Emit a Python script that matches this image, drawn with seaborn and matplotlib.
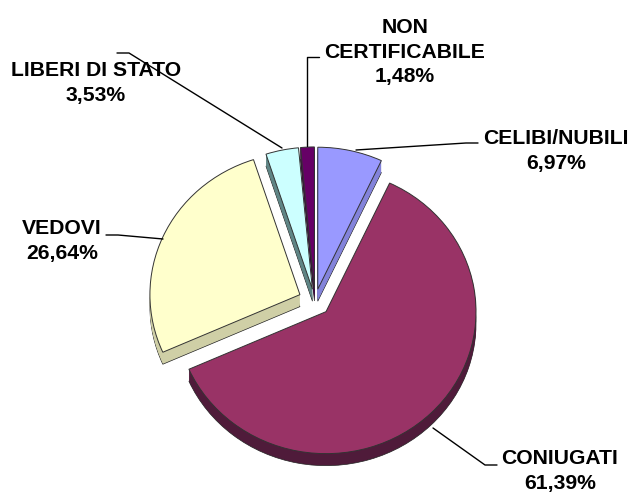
import matplotlib
matplotlib.use("Agg")
import matplotlib.pyplot as plt
import seaborn as sns

categories = ["CELIBI/NUBILI", "CONIUGATI", "VEDOVI", "LIBERI DI STATO", "NON CERTIFICABILE"]
values = [6.97, 61.39, 26.64, 3.53, 1.48]
value_labels = ["6,97%", "61,39%", "26,64%", "3,53%", "1,48%"]
top_colors = ["#9999FF", "#993366", "#FFFFCC", "#CCFFFF", "#660066"]
side_colors = ["#8383DA", "#4F1B3A", "#CFCFA6", "#5F8585", "#3D0A3D"]
explode = [0.085, 0.105, 0.11, 0.085, 0.085]

sns.set_theme(style="white")
plt.rcParams["font.family"] = ["Liberation Sans", "DejaVu Sans"]

W, H = 633, 494
CX, CY, RX, RY, DEPTH = 315, 301, 150, 142, 12

fig = plt.figure(figsize=(W / 100, H / 100), dpi=100, facecolor="white")
ax = fig.add_axes([0, 0, 1, 1])


def px(x, y):
    return (x - CX) / RX, (CY - y) / RY


# Extruded side of the pie: stacked copies shifted downward
for step in range(DEPTH, 0, -1):
    ax.pie(values, explode=explode, colors=side_colors, startangle=90, counterclock=False,
           center=(0, -step / RY), radius=1,
           wedgeprops=dict(linewidth=0.5 if step == DEPTH else 0,
                           edgecolor="#222222" if step == DEPTH else "none"))

# Top face
ax.pie(values, explode=explode, colors=top_colors, startangle=90, counterclock=False,
       radius=1, wedgeprops=dict(linewidth=0.7, edgecolor="#333333"))

ax.set_aspect("auto")
ax.set_xlim(px(0, 0)[0], px(W, 0)[0])
ax.set_ylim(px(0, H)[1], px(0, 0)[1])
ax.axis("off")

leaders = [
    [(356, 150), (466, 143), (478, 143)],
    [(433, 428), (485, 465), (497, 465)],
    [(163, 239), (118, 235), (106, 235)],
    [(282, 148), (129, 53), (117, 53)],
    [(307, 146), (307, 57), (319, 57)],
]
for pts in leaders:
    xy = [px(*p) for p in pts]
    ax.plot([p[0] for p in xy], [p[1] for p in xy], color="black", lw=1.0, zorder=5)

label_pos = [(556, 151), (560, 471), (62, 241), (96, 83), (405, 52)]
label_text = [
    categories[0] + "\n" + value_labels[0],
    categories[1] + "\n" + value_labels[1],
    categories[2] + "\n" + value_labels[2],
    categories[3] + "\n" + value_labels[3],
    "NON\nCERTIFICABILE\n" + value_labels[4],
]
for (x, y), txt in zip(label_pos, label_text):
    tx, ty = px(x, y)
    ax.text(tx, ty, txt, ha="center", va="center", fontsize=15.2, fontweight="bold",
            color="black", linespacing=1.38, zorder=6)

fig.savefig("out.png", dpi=100, facecolor="white")
